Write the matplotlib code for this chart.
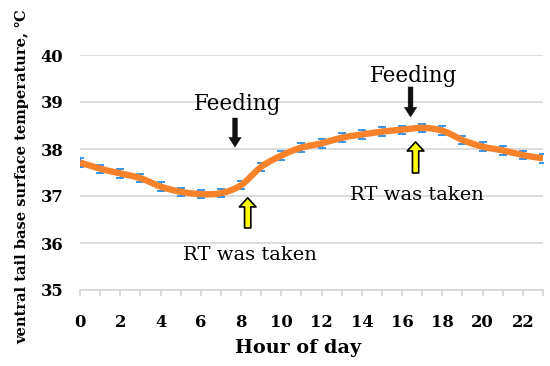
import numpy as np
import matplotlib
matplotlib.use("Agg")
import matplotlib.pyplot as plt
from matplotlib.patches import FancyArrowPatch

hours = list(range(24))
temps = [37.71, 37.58, 37.48, 37.38, 37.20, 37.09, 37.04, 37.06,
         37.23, 37.62, 37.86, 38.03, 38.12, 38.24, 38.31, 38.37,
         38.41, 38.45, 38.39, 38.19, 38.05, 37.97, 37.87, 37.80]
errs = [0.09] * 24
xtick_labels = [str(h) for h in range(0, 24, 2)]
yticks = [35, 36, 37, 38, 39, 40]

FONT = ["DejaVu Serif", "DejaVu Sans"]
plt.rcParams["font.family"] = FONT

W, H = 550, 366
fig = plt.figure(figsize=(W / 100, H / 100), dpi=100)
ax = fig.add_axes([80 / W, 1 - 290 / H, (543 - 80) / W, (290 - 55) / H])

# smooth line (Catmull-Rom through the data points)
x = np.array(hours, dtype=float)
y = np.array(temps, dtype=float)
px = np.concatenate([[2 * x[0] - x[1]], x, [2 * x[-1] - x[-2]]])
py = np.concatenate([[2 * y[0] - y[1]], y, [2 * y[-1] - y[-2]]])
xs, ys = [], []
t = np.linspace(0, 1, 20)
def cr(a0, a1, a2, a3):
    return 0.5 * ((2 * a1) + (-a0 + a2) * t + (2 * a0 - 5 * a1 + 4 * a2 - a3) * t ** 2
                  + (-a0 + 3 * a1 - 3 * a2 + a3) * t ** 3)
for i in range(1, len(px) - 2):
    xs.append(cr(px[i - 1], px[i], px[i + 1], px[i + 2]))
    ys.append(cr(py[i - 1], py[i], py[i + 1], py[i + 2]))
xs = np.concatenate(xs)
ys = np.concatenate(ys)

ax.errorbar(hours, temps, yerr=errs, fmt="none", ecolor="#2B8CE6",
            elinewidth=1.0, capsize=3.2, capthick=1.3, zorder=2)
ax.plot(xs, ys, color="#F7822A", lw=4.6, solid_capstyle="butt", zorder=3)

ax.set_xlim(0, 23)
ax.set_ylim(35, 40)
ax.set_yticks(yticks)
ax.set_xticks(range(24))
ax.set_xticklabels([str(h) if h % 2 == 0 else "" for h in range(24)])
for sp in ["top", "right", "left"]:
    ax.spines[sp].set_visible(False)
ax.spines["bottom"].set_color("#D9D9D9")
ax.spines["bottom"].set_linewidth(1.3)
ax.grid(axis="y", color="#D9D9D9", lw=1.3)
ax.set_axisbelow(True)
ax.tick_params(axis="y", length=0, pad=12, labelsize=11.8)
ax.tick_params(axis="x", length=4, width=1.3, color="#D9D9D9", pad=13, labelsize=11.8)
for lab in ax.get_xticklabels() + ax.get_yticklabels():
    lab.set_fontweight("bold")
ax.set_facecolor("white")

fig.text(298 / W, 1 - 353 / H, "Hour of day", ha="center", va="baseline",
         fontsize=13.8, fontweight="bold")
fig.text(22 / W, 1 - 177 / H, "ventral tail base surface temperature, \u2103",
         rotation=90, ha="center", va="center", fontsize=10.5, fontweight="bold")

# annotations
ax.text(7.85, 38.95, "Feeding", ha="center", va="center", fontsize=15.5)
ax.text(16.55, 39.55, "Feeding", ha="center", va="center", fontsize=15.5)
ax.text(8.45, 35.75, "RT was taken", ha="center", va="center", fontsize=14)
ax.text(16.75, 37.03, "RT was taken", ha="center", va="center", fontsize=14)

def black_arrow(xv, ytop, ytip):
    a = FancyArrowPatch((xv, ytop), (xv, ytip),
                        arrowstyle="simple,head_width=0.9,head_length=0.7,tail_width=0.35",
                        mutation_scale=10, fc="#111111", ec="#111111", lw=0.3,
                        shrinkA=0, shrinkB=0, zorder=4)
    ax.add_patch(a)

def yellow_arrow(xv, ybot, ytip):
    a = FancyArrowPatch((xv, ybot), (xv, ytip),
                        arrowstyle="simple,head_width=1.2,head_length=0.65,tail_width=0.45",
                        mutation_scale=10, fc="#FFFF00", ec="black", lw=1.2,
                        shrinkA=0, shrinkB=0, zorder=4)
    ax.add_patch(a)

black_arrow(7.7, 38.66, 38.04)
black_arrow(16.42, 39.32, 38.68)
yellow_arrow(8.33, 36.32, 36.96)
yellow_arrow(16.67, 37.49, 38.15)

fig.savefig("out.png", dpi=100, facecolor="white")
